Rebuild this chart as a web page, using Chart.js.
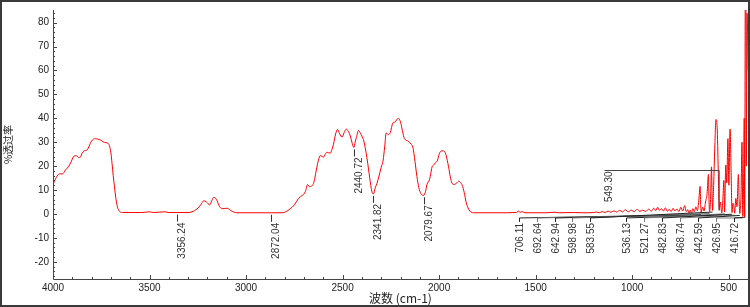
<!DOCTYPE html>
<html><head><meta charset="utf-8">
<script src="https://cdn.jsdelivr.net/npm/chart.js@4"></script>
<style>html,body{margin:0;padding:0;background:#fff}canvas{display:block}</style>
</head><body>
<canvas id="c" width="750" height="307"></canvas>
<script>
// ---- data (wavenumber cm-1, %T) ----
const wavenumbers = [
4000,3985,3975,3960,3952,3935,3918,3905,3895,3885,3878,3865,3858,3848,3838,3823,3812,3802,3790,3780,
3768,3754,3740,3733,3716,3708,3700,3694,3688,3682,3675,3668,3660,3651,3640,3600,3540,3500,3480,3420,
3400,3356,3300,3280,3254,3235,3219,3205,3188,3178,3168,3158,3150,3138,3124,3110,3098,3085,3072,3055,
3047,2900,2872,2814,2795,2771,2750,2728,2710,2702,2692,2681,2671,2662,2653,2645,2636,2625,2615,2606,
2598,2590,2581,2572,2564,2555,2547,2536,2526,2515,2503,2492,2481,2470,2460,2450,2441,2435,2429,2417,
2408,2400,2390,2383,2374,2365,2355,2345,2340,2331,2322,2314,2300,2290,2282,2274,2264,2253,2240,2228,
2212,2200,2193,2182,2175,2160,2146,2136,2125,2115,2105,2095,2080,2070,2063,2050,2046,2036,2029,2018,
2008,2000,1991,1980,1968,1958,1951,1942,1934,1922,1915,1908,1898,1890,1880,1870,1860,1850,1839,1822,
1700,1600,1590,1580,1570,1555,1450,1400,1380,1300,1250,1200,1185,1170,1155,1140,1125,1110,1095,1080,
1065,1050,1035,1020,1005,990,975,960,945,930,915,900,888,878,868,858,848,838,828,818,
808,798,788,778,768,758,748,738,728,720,712,706,700,693,686,678,670,662,655,648,
645,643,635,628,620,612,605,602,599,594,589,586,583.5,578,572,566,560,554,549.3,543,
536,530,525,521.3,515,510,504,499,493,487,483,478,473,469,463,457,450,446,442.6,436,
431,427,423,419.5,417,414,411,408.5,405,402,400
];
const transmittance = [
12.3,15.0,16.3,16.8,16.7,18.4,20.0,22.0,23.8,24.4,24.3,23.6,23.8,25.6,26.4,26.8,28.5,30.3,31.3,31.5,
31.3,30.9,30.2,29.9,29.6,28.6,25.5,21.0,16.0,11.6,7.0,3.5,1.6,0.8,0.6,0.6,0.6,0.9,0.6,0.9,
0.6,0.6,0.6,0.9,2.1,3.8,5.5,5.0,3.8,5.5,6.9,6.6,5.5,3.2,2.2,2.3,2.4,1.8,1.1,0.6,
0.5,0.5,0.5,0.5,0.9,2.2,3.8,6.5,7.7,8.2,9.5,12.3,11.4,11.6,12.3,14.5,18.4,22.5,24.4,24.0,
23.8,25.0,25.8,25.6,25.4,27.0,29.2,33.5,35.3,33.5,32.1,34.0,35.5,34.5,32.6,29.5,27.8,30.0,31.9,34.9,
33.8,32.6,30.5,27.8,23.5,18.4,12.5,8.6,8.4,10.9,12.8,15.0,19.5,22.5,28.0,33.9,33.2,34.0,38.0,38.5,
40.0,38.5,36.0,32.0,31.0,30.5,29.2,28.0,22.0,15.7,11.0,8.6,7.8,9.5,12.3,14.3,15.7,19.8,20.4,21.5,
22.5,25.0,26.2,26.4,25.6,22.5,19.7,15.5,13.0,12.3,12.6,13.0,13.7,13.2,12.0,9.0,4.9,2.5,1.1,0.5,
0.5,0.6,1.2,0.7,1.0,0.5,0.5,0.7,0.5,0.6,0.5,0.6,0.8,0.5,1.0,0.6,1.2,0.7,1.3,0.8,
1.5,0.9,1.7,0.9,1.6,1.0,1.9,1.1,1.6,1.0,2.0,1.2,2.4,1.4,2.8,1.5,2.2,1.2,2.6,1.1,
2.0,1.0,2.4,1.2,2.1,1.0,2.8,1.2,3.5,1.0,1.8,0.4,1.6,0.3,2.2,1.0,3.0,1.4,5.5,11.5,
4.0,0.6,2.8,1.2,5.0,8.5,16.5,6.0,1.0,6.0,19.7,8.0,1.5,12.0,28.0,39.5,36.5,18.0,1.8,5.0,
0.4,6.5,14.0,0.8,20.5,13.0,31.5,12.0,35.5,16.0,0.6,4.5,3.0,0.3,6.5,3.0,16.5,6.0,0.2,8.0,
30.0,-1.0,12.0,40.0,-1.5,95.0,90.0,20.0,84.0,75.0,60.0
];
const xTickValues = [4000,3500,3000,2500,2000,1500,1000,500];
const yTickValues = [-20,-10,0,10,20,30,40,50,60,70,80];
const upperPeakLabels = ["3356.24","2872.04","2440.72","2341.82","2079.67"];
const clusterPeakLabels = ["706.11","692.64","642.94","598.98","583.55","549.30","536.13","521.27","482.83","468.74","442.59","426.95","416.72"];
const raisedLabel = "549.30";
const raisedLevel = 18.3;

// ---- helpers ----
function curveAt(wn){
  for(let i=0;i<wavenumbers.length-1;i++){
    const a=wavenumbers[i], b=wavenumbers[i+1];
    if(wn<=a && wn>=b){ const t=(a-wn)/(a-b); return transmittance[i]+t*(transmittance[i+1]-transmittance[i]); }
  }
  return 0;
}
function curveMinNear(wn,w){ let m=curveAt(wn); for(let d=-w; d<=w; d+=0.25) m=Math.min(m,curveAt(wn+d)); return m; }

const bgPlugin = { id:'bg', beforeDraw(chart){ const c=chart.ctx; c.save(); c.fillStyle='#fff'; c.fillRect(0,0,chart.width,chart.height); c.restore(); } };

const axesPlugin = { id:'axesTicks', afterDatasetsDraw(chart){
  const c=chart.ctx, a=chart.chartArea, xs=chart.scales.x, ys=chart.scales.y;
  c.save();
  c.strokeStyle='#444'; c.lineWidth=1;
  c.beginPath();
  c.moveTo(a.left+0.5,a.top); c.lineTo(a.left+0.5,a.bottom+0.5); c.lineTo(a.right,a.bottom+0.5);
  c.stroke();
  c.beginPath();
  for(let v=400; v<=4000; v+=100){ const px=Math.round(xs.getPixelForValue(v))+0.5; const L=(v%500===0)?4:2; c.moveTo(px,a.bottom); c.lineTo(px,a.bottom-L); }
  for(let v=-26; v<=84; v+=2){ const py=Math.round(ys.getPixelForValue(v))+0.5; const L=(v%10===0)?4:2; c.moveTo(a.left,py); c.lineTo(a.left+L,py); }
  c.stroke();
  c.restore();
}};

const labelPlugin = { id:'peakLabels', afterDatasetsDraw(chart){
  const c=chart.ctx, a=chart.chartArea, xs=chart.scales.x, ys=chart.scales.y;
  c.save();
  c.font='10px "Liberation Sans", Arial, sans-serif';
  c.fillStyle='#333'; c.strokeStyle='#333'; c.lineWidth=1;
  c.textAlign='right'; c.textBaseline='middle';
  upperPeakLabels.forEach(l=>{
    const wn=parseFloat(l); const px=Math.round(xs.getPixelForValue(wn))+0.5;
    const py=ys.getPixelForValue(curveMinNear(wn,3));
    c.beginPath(); c.moveTo(px,py+2); c.lineTo(px,py+9); c.stroke();
    c.save(); c.translate(px+5,py+10); c.rotate(-Math.PI/2); c.fillText(l,0,0); c.restore();
  });
  const n=clusterPeakLabels.length; const step=17.95;
  const baseTop=ys.getPixelForValue(0)+9;
  clusterPeakLabels.forEach((l,i)=>{
    const wn=parseFloat(l);
    const sx=Math.round(a.right-14-(n-1-i)*step)+0.5;
    const px=xs.getPixelForValue(wn);
    const py=ys.getPixelForValue(curveMinNear(wn,2));
    if(l===raisedLabel){
      const ly=Math.round(ys.getPixelForValue(raisedLevel))+0.5;
      c.strokeStyle='#444';
      c.beginPath(); c.moveTo(sx-4,ly); c.lineTo(px,ly); c.lineTo(px,py+1); c.stroke();
      c.save(); c.translate(sx+1,ly+1); c.rotate(-Math.PI/2); c.fillText(l,0,0); c.restore();
    } else {
      c.strokeStyle = (i%2===0)?'#222':'#777';
      c.beginPath(); c.moveTo(sx,baseTop-1); c.lineTo(sx,baseTop-5); c.lineTo(px,py+2); c.stroke();
      c.save(); c.translate(sx+1,baseTop); c.rotate(-Math.PI/2); c.fillText(l,0,0); c.restore();
    }
  });
  c.restore();
}};

const borderPlugin = { id:'frame', afterDraw(chart){ const c=chart.ctx; c.save(); c.strokeStyle='#3a3a3a'; c.lineWidth=2; c.strokeRect(1,1,chart.width-2,chart.height-2); c.restore(); } };

new Chart(document.getElementById('c'), {
  type:'line',
  data:{ datasets:[{ data: wavenumbers.map((w,i)=>({x:w,y:transmittance[i]})), borderColor:'#ff0000', borderWidth:1, pointRadius:0, cubicInterpolationMode:'monotone', fill:false }] },
  options:{
    responsive:false, animation:false, devicePixelRatio:1,
    layout:{ padding:{ top:2, right:2, left:0, bottom:0 } },
    plugins:{ legend:{display:false}, tooltip:{enabled:false} },
    scales:{
      x:{ type:'linear', reverse:true, min:400, max:4000,
          grid:{display:false, drawTicks:false}, border:{display:false},
          afterBuildTicks:s=>{ s.ticks = xTickValues.map(v=>({value:v})); },
          ticks:{ font:{family:'"Liberation Sans", Arial, sans-serif', size:10}, color:'#222', padding:3, maxRotation:0, autoSkip:false, callback:v=>String(v) },
          title:{ display:true, text:'波数 (cm-1)', font:{family:'"Noto Sans CJK SC", sans-serif', size:12}, color:'#222', padding:{top:0,bottom:1} },
          afterFit:s=>{ s.height=28; } },
      y:{ type:'linear', min:-27.2, max:85.3,
          grid:{display:false, drawTicks:false}, border:{display:false},
          afterBuildTicks:s=>{ s.ticks = yTickValues.map(v=>({value:v})); },
          ticks:{ font:{family:'"Liberation Sans", Arial, sans-serif', size:10}, color:'#222', padding:4, autoSkip:false, callback:v=>String(v) },
          title:{ display:true, text:'%透过率', font:{family:'"Noto Sans CJK SC", sans-serif', size:10}, color:'#222', padding:{top:2,bottom:0} },
          afterFit:s=>{ s.width=53; } }
    }
  },
  plugins:[bgPlugin, axesPlugin, labelPlugin, borderPlugin]
});
</script>
</body></html>
